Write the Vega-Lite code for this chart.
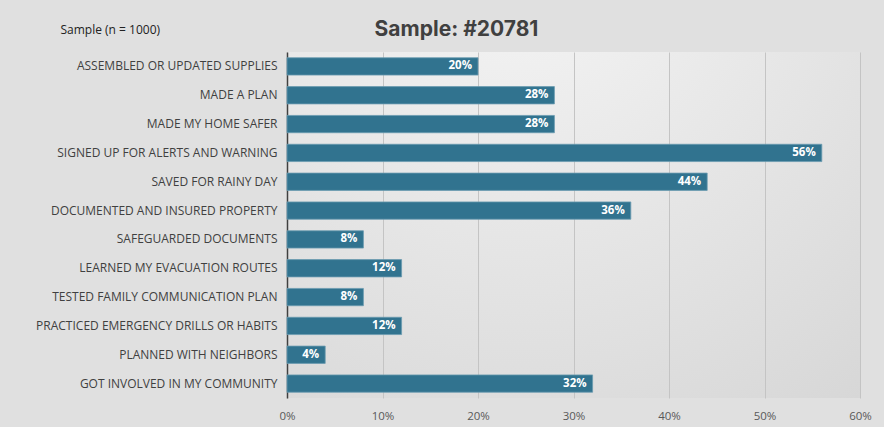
{
  "$schema": "https://vega.github.io/schema/vega-lite/v6.json",
  "autosize": {"type": "none"},
  "width": 573,
  "height": 346,
  "padding": {"left": 287, "top": 52, "right": 24, "bottom": 29},
  "background": "#e0e0e0",
  "title": {
    "text": "Sample: #20781",
    "font": "Inter",
    "fontSize": 21,
    "fontWeight": "bold",
    "color": "#404040",
    "anchor": "middle",
    "frame": "group",
    "dx": -117,
    "offset": -17
  },
  "config": {
    "view": {"stroke": null, "fill": {"gradient": "radial", "x1": 0.4, "y1": 0, "r1": 0, "x2": 0.4, "y2": 0, "r2": 1.1, "stops": [{"offset": 0, "color": "#f6f6f6"}, {"offset": 1, "color": "#d4d4d4"}]}},
    "font": "Open Sans"
  },
  "data": {
    "values": [
      {"action": "ASSEMBLED OR UPDATED SUPPLIES", "pct": 0.20},
      {"action": "MADE A PLAN", "pct": 0.28},
      {"action": "MADE MY HOME SAFER", "pct": 0.28},
      {"action": "SIGNED UP FOR ALERTS AND WARNING", "pct": 0.56},
      {"action": "SAVED FOR  RAINY DAY", "pct": 0.44},
      {"action": "DOCUMENTED AND INSURED PROPERTY", "pct": 0.36},
      {"action": "SAFEGUARDED DOCUMENTS", "pct": 0.08},
      {"action": "LEARNED MY EVACUATION ROUTES", "pct": 0.12},
      {"action": "TESTED FAMILY COMMUNICATION PLAN", "pct": 0.08},
      {"action": "PRACTICED EMERGENCY DRILLS OR HABITS", "pct": 0.12},
      {"action": "PLANNED WITH NEIGHBORS", "pct": 0.04},
      {"action": "GOT INVOLVED IN MY COMMUNITY", "pct": 0.32}
    ]
  },
  "encoding": {
    "y": {
      "field": "action",
      "type": "nominal",
      "sort": null,
      "scale": {"paddingInner": 0.4, "paddingOuter": 0.2},
      "axis": {
        "title": "Sample (n = 1000)",
        "titleAngle": 0,
        "titleX": -227,
        "titleY": -23,
        "titleAlign": "left",
        "titleBaseline": "middle",
        "titleFont": "Open Sans",
        "titleFontSize": 12,
        "titleFontWeight": "normal",
        "titleColor": "#222222",
        "labelFont": "Open Sans",
        "labelFontSize": 12,
        "labelColor": "#404040",
        "labelPadding": 10,
        "ticks": false,
        "domainColor": "#404040",
        "domainWidth": 1.5,
        "labelLimit": 300
      }
    },
    "x": {
      "field": "pct",
      "type": "quantitative",
      "scale": {"domain": [0, 0.6], "nice": false},
      "axis": {
        "title": null,
        "values": [0, 0.1, 0.2, 0.3, 0.4, 0.5, 0.6],
        "format": ".0%",
        "labelFont": "Open Sans",
        "labelFontSize": 11.5,
        "labelColor": "#595959",
        "labelPadding": 12,
        "labelFlush": false,
        "domain": false,
        "ticks": false,
        "grid": true,
        "gridColor": "#c4c4c4",
        "gridWidth": 1
      }
    }
  },
  "layer": [
    {
      "mark": {"type": "bar", "color": "#31738f", "stroke": "#6a9bb0", "strokeWidth": 0.8}
    },
    {
      "mark": {"type": "text", "align": "right", "baseline": "middle", "dx": -6, "color": "#ffffff", "fontWeight": "bold", "fontSize": 11.5, "font": "Open Sans"},
      "encoding": {"text": {"field": "pct", "type": "quantitative", "format": ".0%"}}
    }
  ]
}
